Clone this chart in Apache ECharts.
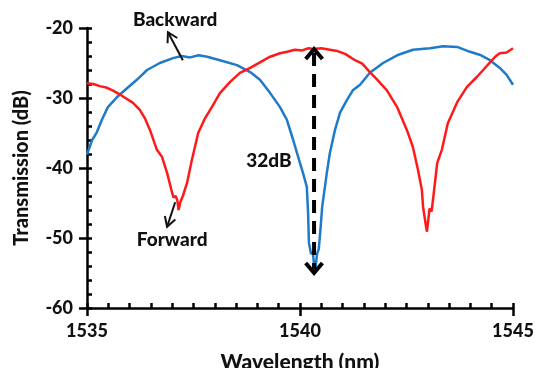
<!DOCTYPE html>
<html>
<head>
<meta charset="utf-8">
<script src="https://cdn.jsdelivr.net/npm/echarts@6/dist/echarts.min.js"></script>
<style>
  html, body { margin: 0; padding: 0; background: #fff; }
  #chart { width: 536px; height: 368px; }
</style>
</head>
<body>
<div id="chart"></div>
<script>
// forward (red) trace
const forwardWavelength = [
  1535.0, 1535.15, 1535.3, 1535.45, 1535.6, 1535.8, 1536.08, 1536.24, 1536.36, 1536.48,
  1536.64, 1536.76, 1536.88, 1537.0, 1537.03, 1537.08, 1537.12, 1537.15, 1537.19, 1537.25,
  1537.35, 1537.46, 1537.61, 1537.77, 1537.93, 1538.12, 1538.36, 1538.59, 1538.83, 1539.06,
  1539.3, 1539.53, 1539.7, 1539.88, 1540.05, 1540.2, 1540.31, 1540.5, 1540.7, 1540.88,
  1541.06, 1541.29, 1541.46, 1541.64, 1541.8, 1542.04, 1542.28, 1542.51, 1542.65, 1542.77,
  1542.8, 1542.86, 1542.89, 1542.95, 1542.98, 1543.01, 1543.04, 1543.09, 1543.13, 1543.18,
  1543.22, 1543.33, 1543.47, 1543.69, 1543.92, 1544.15, 1544.3, 1544.46, 1544.6, 1544.69,
  1544.85, 1545.0
];
const forwardTransmission = [
  -27.9, -28.0, -28.3, -28.5, -28.9, -29.6, -30.7, -31.7, -32.9, -34.6,
  -37.4, -38.4, -40.7, -43.6, -44.2, -44.0, -44.6, -46.0, -44.9, -44.0,
  -42.1, -38.9, -35.0, -32.9, -31.3, -29.3, -27.7, -26.4, -25.7, -24.9,
  -24.1, -23.6, -23.4, -23.1, -23.2, -22.9, -23.0, -22.9, -23.1, -23.3,
  -23.7, -24.6, -25.1, -26.3, -27.3, -28.9, -31.3, -34.6, -37.0, -40.3,
  -40.5, -43.1, -45.6, -48.0, -49.1, -47.5, -45.8, -46.2, -46.4, -41.5,
  -39.3, -37.4, -33.6, -30.6, -28.4, -27.0, -26.0, -24.9, -24.0, -23.6,
  -23.5, -22.9
];

// backward (blue) trace
const backwardWavelength = [
  1535.0, 1535.12, 1535.23, 1535.35, 1535.49, 1535.7, 1535.94, 1536.17, 1536.41, 1536.71,
  1537.02, 1537.22, 1537.42, 1537.62, 1537.82, 1538.12, 1538.52, 1538.83, 1539.06, 1539.3,
  1539.53, 1539.69, 1539.84, 1540.0, 1540.07, 1540.16, 1540.19, 1540.21, 1540.26, 1540.3,
  1540.35, 1540.4, 1540.44, 1540.48, 1540.52, 1540.63, 1540.7, 1540.82, 1540.94, 1541.1,
  1541.24, 1541.41, 1541.64, 1541.95, 1542.28, 1542.65, 1543.05, 1543.36, 1543.69, 1543.99,
  1544.25, 1544.46, 1544.69, 1544.85, 1545.0
];
const backwardTransmission = [
  -38.1, -36.0, -34.9, -33.1, -31.3, -29.9, -28.6, -27.4, -26.0, -25.0,
  -24.3, -24.0, -24.2, -23.9, -24.1, -24.6, -25.3, -26.3, -27.4, -29.3,
  -31.3, -33.1, -36.0, -39.3, -40.7, -42.7, -46.4, -50.7, -52.3, -52.0,
  -55.0, -52.3, -51.6, -48.8, -45.6, -40.7, -37.9, -34.6, -32.1, -30.3,
  -28.9, -28.1, -26.4, -25.0, -23.9, -23.1, -22.9, -22.6, -22.7, -23.4,
  -23.9, -24.6, -25.7, -26.7, -28.1
];

const xTicks = [1535, 1540, 1545];
const yTicks = [-60, -50, -40, -30, -20];

// annotations in data units: [wavelength, dB]
const backwardLabelAt = [1537.07, -18.9];
const backwardArrow = [[1537.25, -24.6], [1536.9, -20.6]];
const forwardLabelAt = [1537.0, -50.3];
const forwardArrow = [[1537.07, -44.9], [1536.88, -48.4]];
const depthArrow = [[1540.33, -23.0], [1540.33, -55.0]];
const depthLabelAt = [1539.27, -39.0];

const zip = (xs, ys) => xs.map((x, i) => [x, ys[i]]);

const FONT = "Lato, 'DejaVu Sans', sans-serif";
const INK = "#111";
const WEIGHT = 900;

const tickStyle = { color: "#000", width: 2.5 };
const tickLabel = {
  fontFamily: FONT,
  fontWeight: WEIGHT,
  fontSize: 18,
  color: INK,
  margin: 14,
  formatter: (v) => String(v),
};

const chart = echarts.init(document.getElementById("chart"));

chart.setOption({
  animation: false,
  // the x title runs off the bottom edge in the original; keep the grid fixed
  grid: { left: 87, right: 23, top: 28, bottom: 60, outerBoundsMode: "none", containLabel: false },
  xAxis: [
    {
      type: "value",
      min: xTicks[0],
      max: xTicks[xTicks.length - 1],
      interval: xTicks[1] - xTicks[0],
      name: "Wavelength (nm)",
      nameLocation: "middle",
      nameGap: 44,
      nameTextStyle: { fontFamily: FONT, fontWeight: WEIGHT, fontSize: 21, color: INK },
      axisLine: { show: true, lineStyle: { color: "#000", width: 2.5 } },
      axisTick: { show: true, length: 8, lineStyle: tickStyle },
      axisLabel: tickLabel,
      splitLine: { show: false },
    },
    {
      type: "value",
      position: "bottom",
      min: xTicks[0],
      max: xTicks[xTicks.length - 1],
      interval: 0.5,
      axisLine: { show: false },
      axisTick: { show: true, inside: true, length: 5, lineStyle: tickStyle },
      axisLabel: { show: false },
      splitLine: { show: false },
    },
  ],
  yAxis: [
    {
      type: "value",
      min: yTicks[0],
      max: yTicks[yTicks.length - 1],
      interval: yTicks[1] - yTicks[0],
      name: "Transmission (dB)",
      nameLocation: "middle",
      nameGap: 55,
      nameTextStyle: { fontFamily: FONT, fontWeight: WEIGHT, fontSize: 20, color: INK },
      axisLine: { show: true, lineStyle: { color: "#000", width: 2.5 } },
      axisTick: { show: true, length: 8, lineStyle: tickStyle },
      axisLabel: tickLabel,
      splitLine: { show: false },
    },
    {
      type: "value",
      position: "left",
      min: yTicks[0],
      max: yTicks[yTicks.length - 1],
      interval: 2,
      axisLine: { show: false },
      axisTick: { show: true, inside: true, length: 5, lineStyle: tickStyle },
      axisLabel: { show: false },
      splitLine: { show: false },
    },
  ],
  series: [
    {
      name: "Forward",
      type: "line",
      data: zip(forwardWavelength, forwardTransmission),
      showSymbol: false,
      lineStyle: { color: "#ff1a1a", width: 2.5 },
      z: 3,
    },
    {
      name: "Backward",
      type: "line",
      data: zip(backwardWavelength, backwardTransmission),
      showSymbol: false,
      lineStyle: { color: "#1f7ac9", width: 2.5 },
      z: 2,
    },
  ],
});

// arrows and labels, placed through the chart's own scales
const px = (p) => chart.convertToPixel({ gridIndex: 0 }, p);

function chevron(tip, from, size, spread) {
  const dx = tip[0] - from[0];
  const dy = tip[1] - from[1];
  const len = Math.hypot(dx, dy);
  const bx = -dx / len;
  const by = -dy / len;
  const wing = (a) => [
    tip[0] + size * (bx * Math.cos(a) - by * Math.sin(a)),
    tip[1] + size * (bx * Math.sin(a) + by * Math.cos(a)),
  ];
  return [wing(spread), tip, wing(-spread)];
}

function label(at, text) {
  const p = px(at);
  return {
    type: "text",
    x: p[0],
    y: p[1],
    z: 10,
    style: {
      text,
      fill: INK,
      font: `${WEIGHT} 19px ${FONT}`,
      align: "center",
      verticalAlign: "middle",
    },
  };
}

function thinArrow(pts) {
  const a = px(pts[0]);
  const b = px(pts[1]);
  return [
    { type: "line", z: 10, shape: { x1: a[0], y1: a[1], x2: b[0], y2: b[1] }, style: { stroke: INK, lineWidth: 2 } },
    { type: "polyline", z: 10, shape: { points: chevron(b, a, 11, Math.PI / 6) }, style: { stroke: INK, lineWidth: 2, fill: null } },
  ];
}

const dTop = px(depthArrow[0]);
const dBot = px(depthArrow[1]);

chart.setOption({
  graphic: [
    label(backwardLabelAt, "Backward"),
    ...thinArrow(backwardArrow),
    label(forwardLabelAt, "Forward"),
    ...thinArrow(forwardArrow),
    label(depthLabelAt, "32dB"),
    {
      type: "line",
      z: 10,
      shape: { x1: dTop[0], y1: dTop[1] + 4, x2: dBot[0], y2: dBot[1] - 4 },
      style: { stroke: "#000", lineWidth: 4, lineDash: [13, 8] },
    },
    { type: "polyline", z: 10, shape: { points: chevron(dTop, dBot, 13, Math.PI / 4.5) }, style: { stroke: "#000", lineWidth: 4, fill: null } },
    { type: "polyline", z: 10, shape: { points: chevron(dBot, dTop, 13, Math.PI / 4.5) }, style: { stroke: "#000", lineWidth: 4, fill: null } },
  ],
});
</script>
</body>
</html>
